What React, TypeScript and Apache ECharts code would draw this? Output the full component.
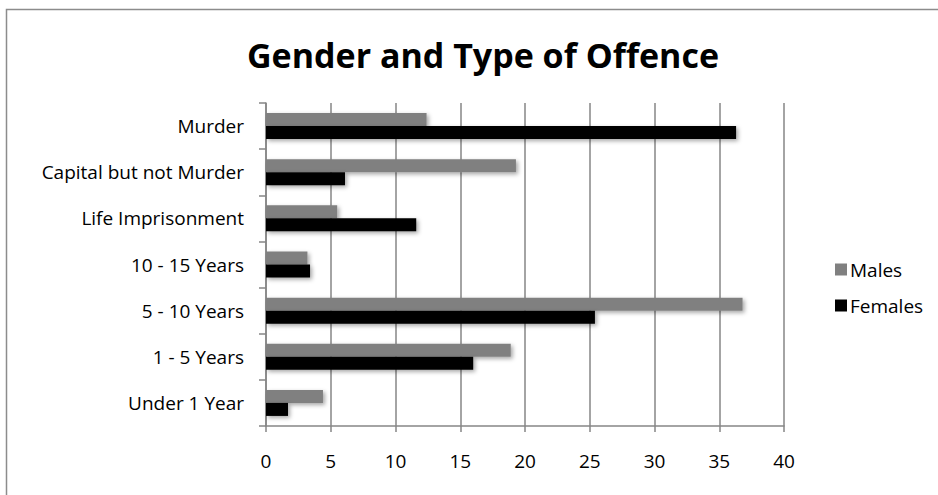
import React, { useEffect, useRef } from "react";
import * as echarts from "echarts";

const categories = [
  "Murder",
  "Capital but not Murder",
  "Life Imprisonment",
  "10 - 15 Years",
  "5 - 10 Years",
  "1 - 5 Years",
  "Under 1 Year",
];
const males = [12.4, 19.3, 5.5, 3.2, 36.8, 18.9, 4.4];
const females = [36.3, 6.1, 11.6, 3.4, 25.4, 16.0, 1.7];
const xTicks = { min: 0, max: 40, interval: 5 };
const seriesNames = ["Males", "Females"];
const title = "Gender and Type of Offence";

export default function App() {
  const ref = useRef<HTMLDivElement>(null);
  useEffect(() => {
    if (!ref.current) return;
    const chart = echarts.init(ref.current, null, { renderer: "svg" });
    const font = "'Open Sans', sans-serif";
    const shadow = {
      shadowColor: "rgba(0,0,0,0.35)",
      shadowBlur: 4,
      shadowOffsetX: 2,
      shadowOffsetY: 2,
    };
    chart.setOption({
      animation: false,
      backgroundColor: "#fff",
      textStyle: { fontFamily: font },
      title: {
        text: title,
        left: 478,
        textAlign: "center",
        top: 33,
        textStyle: { fontFamily: font, fontWeight: "bold", fontSize: 34, color: "#000" },
      },
      graphic: [
        {
          type: "rect",
          shape: { x: 6.5, y: 9.5, width: 940, height: 500 },
          style: { fill: "none", stroke: "#8c8c8c", lineWidth: 1.5 },
          silent: true,
        },
      ],
      legend: {
        orient: "vertical",
        left: 830,
        top: 255,
        itemWidth: 12,
        itemHeight: 12,
        itemGap: 17,
        icon: "rect",
        data: seriesNames,
        textStyle: { fontFamily: font, fontSize: 19, color: "#000", padding: [0, 0, 0, -2] },
      },
      grid: { left: 266, right: 154, top: 103, bottom: 69 },
      xAxis: {
        type: "value",
        min: xTicks.min,
        max: xTicks.max,
        interval: xTicks.interval,
        axisLine: { show: true, lineStyle: { color: "#868686", width: 1.5 } },
        axisTick: { show: true, length: 6, lineStyle: { color: "#868686", width: 1.5 } },
        splitLine: { show: true, lineStyle: { color: "#868686", width: 1.5 } },
        axisLabel: { color: "#000", fontSize: 19, fontFamily: font, margin: 25 },
      },
      yAxis: {
        type: "category",
        inverse: true,
        data: categories,
        axisLine: { show: true, lineStyle: { color: "#868686", width: 1.5 } },
        axisTick: { show: true, length: 7, lineStyle: { color: "#868686", width: 1.5 } },
        axisLabel: { color: "#000", fontSize: 19, fontFamily: font, margin: 22 },
      },
      series: [
        {
          name: seriesNames[0],
          type: "bar",
          data: males,
          barWidth: 13,
          barGap: "0%",
          itemStyle: { color: "#808080", ...shadow },
        },
        {
          name: seriesNames[1],
          type: "bar",
          data: females,
          barWidth: 13,
          barGap: "0%",
          itemStyle: { color: "#000000", ...shadow },
        },
      ],
    });
    return () => chart.dispose();
  }, []);
  return (
    <div
      ref={ref}
      style={{ position: "fixed", left: 0, top: 0, width: 938, height: 495 }}
    />
  );
}
